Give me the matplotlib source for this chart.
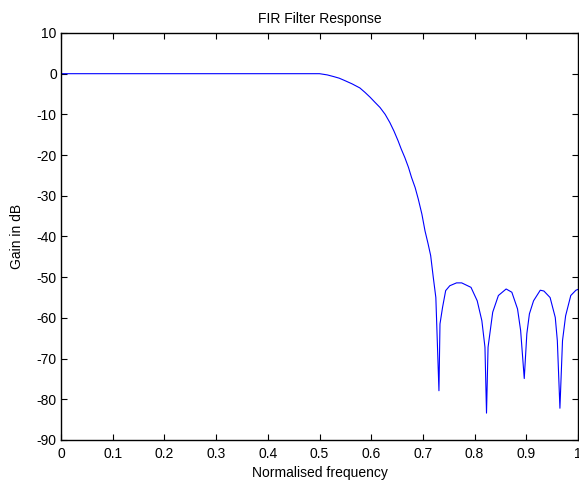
import matplotlib
matplotlib.use("Agg")
import matplotlib.pyplot as plt

plt.rcParams['font.family'] = ['Liberation Sans', 'DejaVu Sans']
plt.rcParams['axes.unicode_minus'] = False

# frequency response (normalised frequency, gain in dB)
freq = [0.0, 0.1, 0.2, 0.3, 0.4, 0.5, 0.515, 0.527, 0.538, 0.549, 0.563, 0.578,
        0.588, 0.598, 0.607, 0.617, 0.627, 0.636, 0.644, 0.652, 0.658, 0.665,
        0.672, 0.678, 0.685, 0.691, 0.698, 0.704, 0.710, 0.715, 0.720, 0.725,
        0.731, 0.733, 0.738, 0.744, 0.752, 0.765, 0.775, 0.793, 0.805, 0.814,
        0.820, 0.823, 0.826, 0.835, 0.846, 0.861, 0.872, 0.883, 0.889, 0.896,
        0.901, 0.906, 0.914, 0.927, 0.934, 0.946, 0.956, 0.960, 0.965, 0.970,
        0.976, 0.986, 0.996, 1.0]
gain = [0.0, 0.0, 0.0, 0.0, 0.0, 0.0, -0.3, -0.7, -1.1, -1.7, -2.5, -3.5,
        -4.6, -5.8, -7.0, -8.3, -10.0, -12.0, -14.1, -16.5, -18.5, -20.6,
        -23.0, -25.5, -28.0, -30.8, -34.5, -38.6, -41.8, -44.7, -50.0, -55.0,
        -77.9, -61.5, -57.4, -53.3, -52.1, -51.4, -51.4, -52.5, -55.8, -60.7,
        -67.2, -83.4, -67.2, -58.6, -54.5, -52.9, -53.7, -57.8, -63.1, -74.9,
        -63.9, -59.0, -55.8, -53.2, -53.4, -55.0, -59.9, -65.6, -82.2, -65.6,
        -59.5, -54.5, -53.2, -53.0]

xticks = [0, 0.1, 0.2, 0.3, 0.4, 0.5, 0.6, 0.7, 0.8, 0.9, 1]
xticklabels = ['0', '0.1', '0.2', '0.3', '0.4', '0.5', '0.6', '0.7', '0.8', '0.9', '1']
yticks = list(range(-90, 11, 10))

fig = plt.figure(figsize=(5.79, 4.88), dpi=100)
ax = fig.add_axes([0.1054, 0.0984, 0.8929, 0.834])

ax.plot(freq, gain, color='#0000ff', linewidth=0.8)

ax.set_xlim(0, 1)
ax.set_ylim(-90, 10)
ax.set_xticks(xticks)
ax.set_xticklabels(xticklabels)
ax.set_yticks(yticks)
ax.tick_params(direction='in', length=4, width=0.8, top=True, right=True,
               labelsize=10, pad=3)
ax.tick_params(axis='x', pad=5)
for s in ax.spines.values():
    s.set_linewidth(1.0)

ax.set_title('FIR Filter Response', fontsize=10, pad=7)
ax.set_xlabel('Normalised frequency', fontsize=10, labelpad=4)
ax.set_ylabel('Gain in dB', fontsize=10, labelpad=9)

fig.savefig('out.png', dpi=100)
